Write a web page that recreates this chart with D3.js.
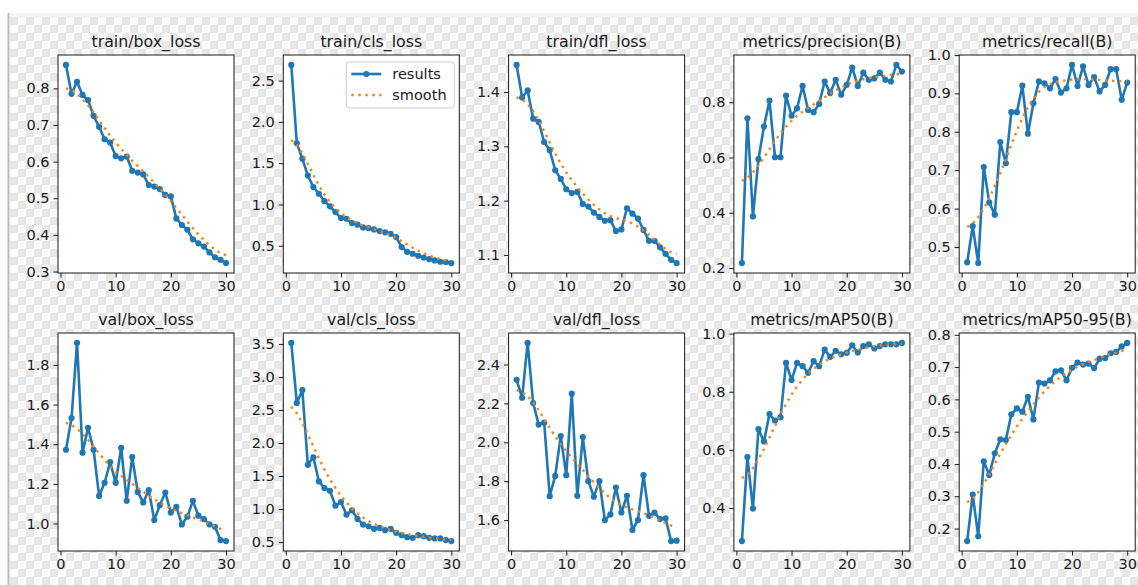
<!DOCTYPE html>
<html>
<head>
<meta charset="utf-8">
<script src="https://cdn.jsdelivr.net/npm/d3@7"></script>
<style>
  body { margin: 0; background: #fff; }
  text { font-family: "DejaVu Sans", sans-serif; }
</style>
</head>
<body>
<div class="chart"></div>
<script>
// YOLO training results, 30 epochs
var epochs = d3.range(1, 31);

var titles = ["train/box_loss", "train/cls_loss", "train/dfl_loss", "metrics/precision(B)", "metrics/recall(B)",
              "val/box_loss", "val/cls_loss", "val/dfl_loss", "metrics/mAP50(B)", "metrics/mAP50-95(B)"];

var trainBox = [0.864, 0.785, 0.818, 0.782, 0.768, 0.725, 0.695, 0.661, 0.652, 0.615, 0.609, 0.614, 0.575, 0.570, 0.565,
                0.536, 0.532, 0.525, 0.509, 0.505, 0.445, 0.427, 0.414, 0.388, 0.377, 0.368, 0.352, 0.339, 0.332, 0.323];
var trainBoxSmooth = [0.800, 0.795, 0.785, 0.770, 0.753, 0.735, 0.712, 0.692, 0.671, 0.652, 0.635, 0.618, 0.602, 0.588, 0.573,
                0.558, 0.542, 0.527, 0.510, 0.492, 0.473, 0.455, 0.436, 0.418, 0.401, 0.386, 0.372, 0.360, 0.350, 0.344];

var trainCls = [2.69, 1.74, 1.555, 1.35, 1.21, 1.13, 1.04, 0.977, 0.908, 0.835, 0.827, 0.775, 0.755, 0.722, 0.714,
                0.698, 0.678, 0.662, 0.645, 0.605, 0.484, 0.427, 0.403, 0.379, 0.358, 0.338, 0.322, 0.306, 0.302, 0.290];
var trainClsSmooth = [1.78, 1.72, 1.62, 1.49, 1.36, 1.23, 1.12, 1.03, 0.955, 0.895, 0.845, 0.805, 0.772, 0.745, 0.722,
                0.700, 0.678, 0.655, 0.628, 0.595, 0.556, 0.515, 0.476, 0.440, 0.408, 0.380, 0.357, 0.338, 0.324, 0.316];

var trainDfl = [1.450, 1.390, 1.403, 1.351, 1.345, 1.308, 1.293, 1.256, 1.240, 1.221, 1.214, 1.216, 1.194, 1.189, 1.178,
                1.170, 1.163, 1.164, 1.144, 1.147, 1.186, 1.176, 1.167, 1.146, 1.126, 1.126, 1.114, 1.102, 1.091, 1.085];
var trainDflSmooth = [1.390, 1.386, 1.378, 1.365, 1.348, 1.328, 1.307, 1.287, 1.268, 1.252, 1.238, 1.225, 1.213, 1.202, 1.192,
                1.184, 1.177, 1.172, 1.168, 1.165, 1.162, 1.158, 1.152, 1.145, 1.137, 1.128, 1.119, 1.111, 1.105, 1.102];

var precision = [0.218, 0.742, 0.387, 0.594, 0.712, 0.806, 0.601, 0.601, 0.824, 0.751, 0.778, 0.859, 0.772, 0.764, 0.794,
                0.875, 0.833, 0.881, 0.827, 0.863, 0.925, 0.859, 0.907, 0.881, 0.886, 0.907, 0.881, 0.875, 0.935, 0.911];
var precisionSmooth = [0.515, 0.527, 0.546, 0.571, 0.600, 0.630, 0.660, 0.688, 0.712, 0.733, 0.751, 0.766, 0.779, 0.792, 0.805,
                0.818, 0.831, 0.843, 0.854, 0.864, 0.872, 0.878, 0.883, 0.887, 0.890, 0.893, 0.896, 0.899, 0.901, 0.903];

var recall = [0.460, 0.554, 0.458, 0.708, 0.616, 0.584, 0.773, 0.718, 0.851, 0.851, 0.920, 0.795, 0.874, 0.931, 0.926,
                0.913, 0.937, 0.902, 0.913, 0.974, 0.919, 0.970, 0.922, 0.942, 0.905, 0.922, 0.963, 0.963, 0.883, 0.928];
var recallSmooth = [0.552, 0.561, 0.577, 0.600, 0.627, 0.658, 0.692, 0.728, 0.766, 0.802, 0.836, 0.864, 0.887, 0.904, 0.916,
                0.924, 0.929, 0.932, 0.934, 0.936, 0.937, 0.937, 0.937, 0.936, 0.935, 0.934, 0.933, 0.932, 0.931, 0.931];

var valBox = [1.372, 1.532, 1.911, 1.357, 1.483, 1.372, 1.139, 1.205, 1.310, 1.205, 1.381, 1.114, 1.335, 1.159, 1.106,
                1.168, 1.017, 1.092, 1.156, 1.055, 1.084, 0.995, 1.034, 1.114, 1.039, 1.022, 0.995, 0.983, 0.916, 0.911];
var valBoxSmooth = [1.508, 1.497, 1.478, 1.453, 1.422, 1.388, 1.353, 1.320, 1.290, 1.263, 1.240, 1.220, 1.200, 1.180, 1.160,
                1.140, 1.122, 1.105, 1.090, 1.076, 1.064, 1.052, 1.041, 1.031, 1.021, 1.010, 0.998, 0.985, 0.973, 0.965];

var valCls = [3.515, 2.607, 2.80, 1.669, 1.784, 1.418, 1.317, 1.277, 1.051, 1.107, 0.916, 0.981, 0.851, 0.765, 0.740,
                0.700, 0.715, 0.680, 0.700, 0.640, 0.605, 0.575, 0.565, 0.605, 0.590, 0.565, 0.555, 0.555, 0.530, 0.515];
var valClsSmooth = [2.55, 2.45, 2.30, 2.13, 1.95, 1.77, 1.60, 1.45, 1.32, 1.20, 1.10, 1.01, 0.935, 0.870, 0.818,
                0.775, 0.740, 0.710, 0.684, 0.660, 0.640, 0.622, 0.606, 0.592, 0.580, 0.568, 0.556, 0.545, 0.537, 0.532];

var valDfl = [2.321, 2.229, 2.511, 2.202, 2.091, 2.101, 1.723, 1.827, 2.032, 1.831, 2.250, 1.725, 2.027, 1.800, 1.720,
                1.800, 1.600, 1.629, 1.767, 1.639, 1.725, 1.549, 1.600, 1.831, 1.622, 1.638, 1.605, 1.609, 1.492, 1.494];
var valDflSmooth = [2.268, 2.258, 2.238, 2.205, 2.165, 2.120, 2.074, 2.030, 1.990, 1.955, 1.922, 1.890, 1.858, 1.826, 1.795,
                1.765, 1.737, 1.713, 1.693, 1.677, 1.665, 1.655, 1.646, 1.636, 1.625, 1.612, 1.598, 1.584, 1.572, 1.565];

var map50 = [0.286, 0.575, 0.398, 0.671, 0.629, 0.723, 0.701, 0.712, 0.899, 0.840, 0.899, 0.888, 0.865, 0.905, 0.888,
                0.945, 0.920, 0.941, 0.929, 0.934, 0.960, 0.935, 0.957, 0.963, 0.949, 0.957, 0.963, 0.963, 0.963, 0.968];
var map50Smooth = [0.503, 0.515, 0.537, 0.567, 0.603, 0.642, 0.682, 0.722, 0.758, 0.790, 0.818, 0.842, 0.862, 0.879, 0.893,
                0.905, 0.914, 0.922, 0.929, 0.935, 0.940, 0.945, 0.949, 0.953, 0.956, 0.959, 0.961, 0.963, 0.964, 0.965];

var map5095 = [0.161, 0.305, 0.176, 0.408, 0.366, 0.433, 0.476, 0.474, 0.554, 0.572, 0.562, 0.608, 0.538, 0.652, 0.649,
                0.659, 0.687, 0.690, 0.659, 0.698, 0.714, 0.708, 0.711, 0.697, 0.726, 0.728, 0.743, 0.747, 0.764, 0.775];
var map5095Smooth = [0.281, 0.292, 0.312, 0.338, 0.368, 0.400, 0.432, 0.462, 0.490, 0.516, 0.540, 0.563, 0.585, 0.606, 0.625,
                0.642, 0.657, 0.670, 0.682, 0.692, 0.701, 0.709, 0.716, 0.722, 0.728, 0.734, 0.740, 0.745, 0.750, 0.753];

var results = [trainBox, trainCls, trainDfl, precision, recall, valBox, valCls, valDfl, map50, map5095];
var smooths = [trainBoxSmooth, trainClsSmooth, trainDflSmooth, precisionSmooth, recallSmooth,
               valBoxSmooth, valClsSmooth, valDflSmooth, map50Smooth, map5095Smooth];

var xTicks = [0, 10, 20, 30];
var yTicks = [
  [0.3, 0.4, 0.5, 0.6, 0.7, 0.8],
  [0.5, 1.0, 1.5, 2.0, 2.5],
  [1.1, 1.2, 1.3, 1.4],
  [0.2, 0.4, 0.6, 0.8],
  [0.5, 0.6, 0.7, 0.8, 0.9, 1.0],
  [1.0, 1.2, 1.4, 1.6, 1.8],
  [0.5, 1.0, 1.5, 2.0, 2.5, 3.0, 3.5],
  [1.6, 1.8, 2.0, 2.2, 2.4],
  [0.4, 0.6, 0.8, 1.0],
  [0.2, 0.3, 0.4, 0.5, 0.6, 0.7, 0.8]
];
var legendLabels = ["results", "smooth"];

var blue = "#1f77b4", orange = "#ff7f0e", ink = "#1a1a1a";
var dots = "2.4,4.6";

var svg = d3.select(".chart")
            .append("svg")
            .attr("width", 1138)
            .attr("height", 585);

// transparent-png checker background
var defs = svg.append("defs");
var pat = defs.append("pattern")
            .attr("id", "checker")
            .attr("width", 16)
            .attr("height", 16)
            .attr("patternUnits", "userSpaceOnUse")
            .attr("x", 10)
            .attr("y", 17);
pat.append("rect").attr("width", 16).attr("height", 16).attr("fill", "#fbfbfb");
pat.append("rect").attr("width", 8).attr("height", 8).attr("fill", "#e7e7e7");
pat.append("rect").attr("x", 8).attr("y", 8).attr("width", 8).attr("height", 8).attr("fill", "#e7e7e7");

svg.append("rect")
    .attr("x", 0).attr("y", 0).attr("width", 1138).attr("height", 585)
    .attr("fill", "#fff");
svg.append("rect")
    .attr("x", 10).attr("y", 13).attr("width", 1128).attr("height", 4)
    .attr("fill", "#f3f3f3");
svg.append("rect")
    .attr("x", 10).attr("y", 17).attr("width", 1128).attr("height", 568)
    .attr("fill", "url(#checker)");
svg.append("line") // left border
    .attr("x1", 8.5).attr("y1", 13).attr("x2", 8.5).attr("y2", 585)
    .style("stroke", "#bbb")
    .style("stroke-width", 2);

var W = 176, H = 218;
var lefts = [58, 283.3, 508.6, 733.9, 959.2];
var tops = [55, 333];

var x = d3.scaleLinear().domain([-0.45, 31.45]).range([0, W]);

for (var i = 0; i < 10; i++) {
    var g = svg.append("g")
        .attr("transform", "translate(" + lefts[i % 5] + "," + tops[Math.floor(i / 5)] + ")");

    var ext = d3.extent(results[i].concat(smooths[i]));
    var pad = (ext[1] - ext[0]) * 0.05;
    var y = d3.scaleLinear().domain([ext[0] - pad, ext[1] + pad]).range([H, 0]);

    g.append("rect")
        .attr("width", W).attr("height", H)
        .attr("fill", "#fff");

    var line = d3.line()
        .x(function(d, j) { return x(epochs[j]); })
        .y(function(d) { return y(d); });

    g.append("path")
        .datum(results[i])
        .attr("d", line)
        .attr("fill", "none")
        .style("stroke", blue)
        .style("stroke-width", 2.6)
        .style("stroke-linejoin", "round");

    g.selectAll(".dot")
        .data(results[i])
        .enter()
        .append("circle")
        .attr("cx", function(d, j) { return x(epochs[j]); })
        .attr("cy", function(d) { return y(d); })
        .attr("r", 3.1)
        .attr("fill", blue);

    g.append("path")
        .datum(smooths[i])
        .attr("d", line)
        .attr("fill", "none")
        .style("stroke", orange)
        .style("stroke-width", 2.4)
        .style("stroke-dasharray", dots);

    // axes
    var ax = g.append("g")
        .attr("transform", "translate(0," + H + ")")
        .call(d3.axisBottom(x).tickValues(xTicks).tickSize(4.5).tickPadding(3.5).tickSizeOuter(0));
    var ay = g.append("g")
        .call(d3.axisLeft(y).tickValues(yTicks[i]).tickFormat(d3.format(".1f")).tickSize(4.5).tickPadding(4).tickSizeOuter(0));
    [ax, ay].forEach(function(a) {
        a.select(".domain").remove();
        a.selectAll("line").style("stroke", ink).style("stroke-width", 1);
        a.selectAll("text")
            .style("font-size", "14.5px")
            .attr("fill", ink)
            .attr("font-family", "DejaVu Sans");
    });

    g.append("rect")
        .attr("width", W).attr("height", H)
        .attr("fill", "none")
        .style("stroke", ink)
        .style("stroke-width", 1);

    g.append("text")
        .attr("x", W / 2)
        .attr("y", -8)
        .attr("text-anchor", "middle")
        .text(titles[i])
        .style("font-size", "15.8px")
        .attr("fill", ink);
}

// legend in the second panel
var lg = svg.append("g").attr("transform", "translate(" + lefts[1] + "," + tops[0] + ")");
lg.append("rect")
    .attr("x", 63).attr("y", 7)
    .attr("width", 108).attr("height", 46)
    .attr("rx", 3)
    .attr("fill", "#fff")
    .attr("fill-opacity", 0.8)
    .style("stroke", "#ccc")
    .style("stroke-width", 1);
for (var k = 0; k < 2; k++) {
    var ly = 19 + k * 21;
    lg.append("line")
        .attr("x1", 68).attr("y1", ly)
        .attr("x2", 98).attr("y2", ly)
        .style("stroke", k == 0 ? blue : orange)
        .style("stroke-width", k == 0 ? 2.6 : 2.4)
        .style("stroke-dasharray", k == 0 ? null : dots);
    if (k == 0) {
        lg.append("circle").attr("cx", 83).attr("cy", ly).attr("r", 3.1).attr("fill", blue);
    }
    lg.append("text")
        .attr("x", 109)
        .attr("y", ly + 5)
        .text(legendLabels[k])
        .style("font-size", "14.5px")
        .attr("fill", ink);
}
</script>
</body>
</html>
